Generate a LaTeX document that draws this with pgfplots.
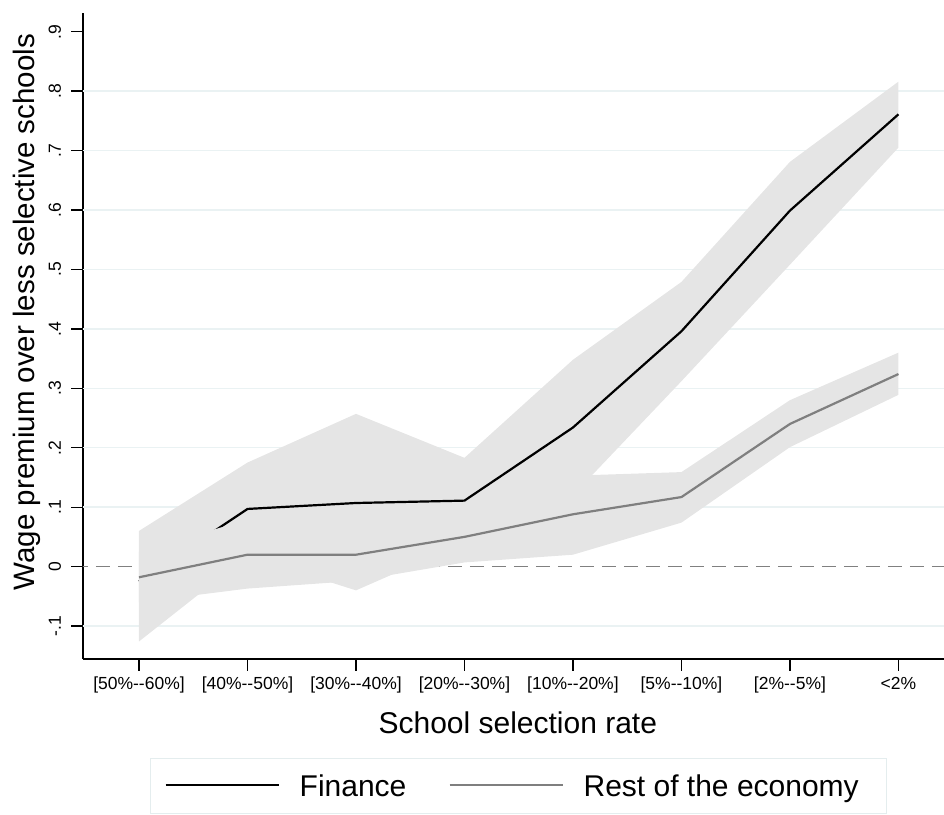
\documentclass[border=0pt]{standalone}
\usepackage{fontspec}
\setmainfont{Liberation Sans}
\usepackage{pgfplots}
\pgfplotsset{compat=1.18}
\definecolor{bandgray}{HTML}{E5E5E5}
\definecolor{restgray}{HTML}{7F7F7F}
\definecolor{gridcol}{HTML}{EAF2F3}
\definecolor{zerocol}{HTML}{808080}
\definecolor{legcol}{HTML}{E4EDEE}

\begin{document}
\begin{tikzpicture}
\begin{axis}[
  scale only axis, width=861pt, height=646pt,
  xmin=-0.516, xmax=7.42, ymin=-0.1555, ymax=0.9315,
  axis x line*=bottom, axis y line*=left,
  axis line style={-, line width=1.3pt, black},
  tick align=outside, major tick length=11.5pt,
  major tick style={line width=1.3pt, black},
  xtick={0,1,2,3,4,5,6,7},
  xticklabels={{[50\%-{}-60\%]},{[40\%-{}-50\%]},{[30\%-{}-40\%]},{[20\%-{}-30\%]},{[10\%-{}-20\%]},{[5\%-{}-10\%]},{[2\%-{}-5\%]},{<2\%}},
  ytick={-0.1,0,0.1,0.2,0.3,0.4,0.5,0.6,0.7,0.8,0.9},
  yticklabels={-.1,0,.1,.2,.3,.4,.5,.6,.7,.8,.9},
  extra y ticks={-0.1,0.1,0.2,0.3,0.4,0.5,0.6,0.7,0.8},
  extra y tick labels={},
  extra y tick style={grid=major, major tick length=0pt, major grid style={gridcol, line width=1.5pt}},
  xticklabel style={font=\fontsize{17.5}{20}\selectfont, anchor=base, yshift=-19pt},
  yticklabel style={font=\fontsize{17.5}{20}\selectfont, xshift=-10.5pt, rotate=90, anchor=base},
  xlabel={School selection rate},
  ylabel={Wage premium over less selective schools},
  xlabel style={font=\fontsize{30}{32}\selectfont, at={(axis description cs:0.505,0)}, anchor=base, yshift=-74pt},
  ylabel style={font=\fontsize{29.5}{32}\selectfont, at={(axis description cs:-0.065,0.537)}, anchor=center},
  legend columns=2,
  legend style={at={(axis description cs:0.0778,-0.1533)}, anchor=north west, draw=legcol, line width=1pt, fill=white,
    inner xsep=14pt, inner ysep=16pt, font=\fontsize{30}{32}\selectfont, nodes={inner sep=0pt},
    /tikz/every odd column/.style={column sep=20pt}, /tikz/every even column/.style={column sep=42pt}},
  legend image code/.code={\draw[#1] (0pt,1pt) -- (113pt,1pt);},
]
% zero line
\addplot[zerocol, dash pattern=on 14pt off 8pt, line width=1.5pt, forget plot] coordinates {(-0.6,0) (7.5,0)};
% finance band
\addplot[fill=bandgray, draw=none, forget plot] coordinates {
 (0,0.060) (1,0.175) (2,0.257) (3,0.183) (4,0.348) (5,0.479) (6,0.681) (7,0.816)
 (7,0.705) (6,0.508) (5,0.312) (4,0.120) (3,0.040) (2,-0.040) (1,0.018) (0,-0.126)} -- cycle;
% finance line
\addplot[black, line width=2.2pt] coordinates {
 (0,-0.025) (1,0.097) (2,0.107) (3,0.111) (4,0.234) (5,0.396) (6,0.599) (7,0.761)};
\addlegendentry{Finance}
% rest band
\addplot[fill=bandgray, draw=none, forget plot] coordinates {
 (0,0.025) (1,0.079) (2,0.066) (3,0.091) (4,0.153) (5,0.159) (6,0.280) (7,0.360)
 (7,0.289) (6,0.201) (5,0.074) (4,0.020) (3,0.007) (2,-0.024) (1,-0.037) (0,-0.060)} -- cycle;
% rest line
\addplot[restgray, line width=2.2pt] coordinates {
 (0,-0.018) (1,0.020) (2,0.020) (3,0.050) (4,0.088) (5,0.117) (6,0.240) (7,0.324)};
\addlegendentry{Rest of the economy\rule{14pt}{0pt}}
\end{axis}
\pgfresetboundingbox
\path[use as bounding box] (-83pt,-155pt) rectangle (861pt,659pt);
\end{tikzpicture}
\end{document}
